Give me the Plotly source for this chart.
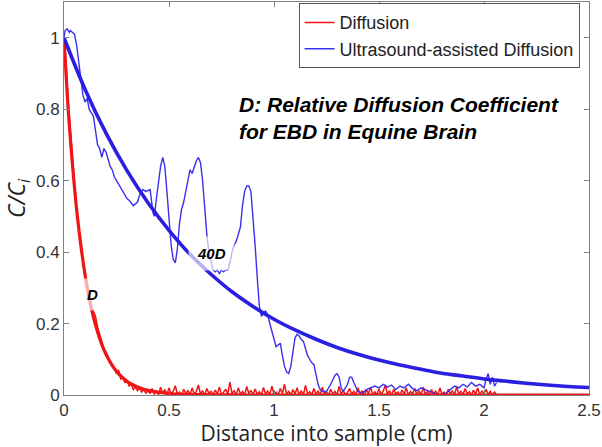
import plotly.graph_objects as go

# ---------------- data ----------------
# red (Diffusion) measured profile, sampled every 0.01 cm starting at 0
red_y = [1.0, 0.93, 0.82, 0.74, 0.66, 0.58, 0.52, 0.47, 0.42, 0.38,
         0.345, 0.31, 0.285, 0.25, 0.235, 0.22, 0.19, 0.17, 0.155, 0.13,
         0.12, 0.105, 0.095, 0.08, 0.075, 0.06, 0.07, 0.045, 0.05, 0.035,
         0.04, 0.025, 0.03, 0.015, 0.022, 0.012, 0.02, 0.008, 0.015, 0.005,
         0.012,
         0.004, 0.018, 0.002, 0.012, 0.0, 0.022, 0.005, 0.015, 0.001, 0.02,
         0.003, 0.01, 0.026, 0.002, 0.008, 0.0, 0.016, 0.004, 0.012, 0.001,
         0.02, 0.003, 0.009, 0.028, 0.002, 0.012, 0.0, 0.018, 0.005, 0.01,
         0.0, 0.014, 0.003, 0.022, 0.001, 0.008, 0.016, 0.002, 0.036, 0.004,
         0.012, 0.0, 0.02, 0.003, 0.01, 0.0, 0.024, 0.004, 0.013, 0.001,
         0.017, 0.002, 0.009, 0.0, 0.021, 0.003, 0.011, 0.001, 0.025, 0.002,
         0.008, 0.0, 0.018, 0.004, 0.03, 0.002, 0.01, 0.0, 0.015, 0.003,
         0.02, 0.001, 0.012, 0.0, 0.027, 0.004, 0.009, 0.001, 0.018, 0.002,
         0.011, 0.0, 0.022, 0.003, 0.008, 0.0, 0.016, 0.002, 0.01, 0.0,
         0.024, 0.003, 0.012, 0.001, 0.007, 0.018, 0.002, 0.01, 0.0, 0.02,
         0.002, 0.012, 0.0, 0.015, 0.003, 0.022, 0.001, 0.009, 0.0, 0.017,
         0.003, 0.01, 0.028, 0.002, 0.012, 0.0, 0.016, 0.004, 0.008, 0.0,
         0.014, 0.002, 0.02, 0.0, 0.01, 0.003, 0.018, 0.001, 0.012, 0.0,
         0.022, 0.002, 0.009, 0.0, 0.015, 0.003, 0.011, 0.0, 0.02, 0.002,
         0.008, 0.0, 0.016, 0.003, 0.012, 0.0, 0.024, 0.002, 0.01, 0.001,
         0.018, 0.003, 0.009, 0.0, 0.014, 0.002, 0.02, 0.0, 0.012, 0.003,
         0.016, 0.002, 0.01, 0.0, 0.008, 0.0]
red_x0 = 0.0
red_dx = 0.01

blue_x = [0.0, 0.005, 0.015, 0.025, 0.03, 0.04, 0.05, 0.06, 0.07, 0.08, 0.09, 0.10, 0.11, 0.12,
          0.13, 0.14, 0.15, 0.16, 0.17, 0.18, 0.19, 0.20, 0.21, 0.22, 0.23, 0.24, 0.26, 0.28, 0.30,
          0.31, 0.33, 0.34, 0.35, 0.36, 0.376, 0.39, 0.41, 0.424, 0.43, 0.44, 0.45, 0.46, 0.47, 0.48,
          0.49, 0.50, 0.51, 0.52, 0.53, 0.54, 0.55, 0.56, 0.57, 0.58, 0.59, 0.60, 0.61, 0.62, 0.63,
          0.64, 0.65, 0.66, 0.67, 0.68, 0.69, 0.70, 0.71, 0.72, 0.73, 0.74, 0.75, 0.76, 0.77, 0.78,
          0.79, 0.80, 0.81, 0.82, 0.83, 0.84, 0.85, 0.86, 0.87, 0.88, 0.89, 0.90, 0.91, 0.92, 0.93,
          0.94, 0.95, 0.96, 0.97, 0.98, 0.99, 1.00, 1.01, 1.02, 1.03, 1.04, 1.05, 1.06, 1.07, 1.08,
          1.09, 1.10, 1.11, 1.12, 1.13, 1.14, 1.15, 1.16, 1.17, 1.18, 1.19, 1.20, 1.21, 1.22, 1.23,
          1.25, 1.27, 1.29, 1.30, 1.31, 1.32, 1.33, 1.35, 1.36, 1.37, 1.38, 1.40, 1.42, 1.44, 1.46,
          1.48, 1.50, 1.52, 1.54, 1.56, 1.58, 1.60, 1.62, 1.64, 1.66, 1.68, 1.70, 1.72, 1.74, 1.76,
          1.78, 1.80, 1.82, 1.84, 1.86, 1.88, 1.90, 1.92, 1.94, 1.96, 1.98, 2.00, 2.01, 2.02, 2.03,
          2.04, 2.05, 2.06]
blue_y = [1.0, 1.02, 1.025, 1.015, 1.02, 1.015, 1.01, 0.98, 0.93, 0.88, 0.84, 0.82, 0.83, 0.80,
          0.79, 0.78, 0.74, 0.70, 0.69, 0.665, 0.69, 0.68, 0.66, 0.64, 0.63, 0.61, 0.59, 0.57, 0.55,
          0.545, 0.53, 0.535, 0.54, 0.56, 0.575, 0.57, 0.575, 0.51, 0.50, 0.55, 0.60, 0.64, 0.665, 0.64,
          0.57, 0.48, 0.42, 0.38, 0.37, 0.41, 0.48, 0.52, 0.54, 0.57, 0.60, 0.63, 0.62, 0.64, 0.655,
          0.665, 0.65, 0.60, 0.52, 0.45, 0.40, 0.37, 0.35, 0.345, 0.35, 0.34, 0.35, 0.345, 0.35, 0.35,
          0.37, 0.40, 0.42, 0.43, 0.45, 0.47, 0.53, 0.57, 0.585, 0.585, 0.57, 0.50, 0.42, 0.33, 0.25,
          0.22, 0.23, 0.235, 0.225, 0.20, 0.18, 0.16, 0.135, 0.14, 0.145, 0.11, 0.08, 0.065, 0.06, 0.08,
          0.12, 0.16, 0.17, 0.165, 0.155, 0.15, 0.13, 0.11, 0.10, 0.09, 0.085, 0.06, 0.03, 0.015, 0.01,
          0.01, 0.03, 0.055, 0.06, 0.05, 0.02, 0.01, 0.03, 0.05, 0.05, 0.035, 0.01, 0.005, 0.015, 0.02,
          0.025, 0.02, 0.03, 0.022, 0.028, 0.015, 0.025, 0.02, 0.03, 0.018, 0.012, 0.02, 0.015, 0.008, 0.005,
          0.0, 0.002, 0.005, 0.015, 0.025, 0.02, 0.03, 0.022, 0.035, 0.025, 0.03, 0.02, 0.045, 0.06, 0.03,
          0.05, 0.025, 0.035]

fit_red_x = [0, 0.02, 0.04, 0.06, 0.08, 0.10, 0.12, 0.14, 0.16, 0.18, 0.20, 0.22, 0.24, 0.26, 0.28,
             0.30, 0.32, 0.34, 0.36, 0.38, 0.40, 0.50, 0.60, 0.80, 1.0, 1.5, 2.0, 2.5]
fit_red_y = [1.0, 0.80, 0.647, 0.52, 0.42, 0.337, 0.27, 0.218, 0.176, 0.141, 0.114, 0.092, 0.074, 0.059,
             0.048, 0.038, 0.031, 0.025, 0.020, 0.016, 0.013, 0.004, 0.0015, 0.0002, 0, 0, 0, 0]

fit_blue_x = [0, 0.1, 0.2, 0.3, 0.4, 0.5, 0.6, 0.7, 0.8, 0.9, 1.0, 1.1, 1.2, 1.3, 1.4, 1.5, 1.6,
              1.7, 1.8, 1.9, 2.0, 2.1, 2.2, 2.3, 2.4, 2.5]
fit_blue_y = [1.0, 0.856, 0.733, 0.628, 0.538, 0.461, 0.394, 0.338, 0.289, 0.248, 0.212, 0.182, 0.156,
              0.133, 0.114, 0.098, 0.084, 0.072, 0.061, 0.053, 0.045, 0.039, 0.033, 0.028, 0.024, 0.021]

x_ticks = [0, 0.5, 1, 1.5, 2, 2.5]
x_tick_text = ["0", "0.5", "1", "1.5", "2", "2.5"]
y_ticks = [0, 0.2, 0.4, 0.6, 0.8, 1]
y_tick_text = ["0", "0.2", "0.4", "0.6", "0.8", "1"]

RED = "#f01414"
BLUE = "#3a30ee"
BLUE_FIT = "#2a1fe0"

fig = go.Figure()
fig.add_trace(go.Scatter(x0=red_x0, dx=red_dx, y=red_y, mode="lines", name="Diffusion",
                         line=dict(color=RED, width=1.5)))
fig.add_trace(go.Scatter(x=blue_x, y=blue_y, mode="lines", name="Ultrasound-assisted Diffusion",
                         line=dict(color=BLUE, width=1.4)))
fig.add_trace(go.Scatter(x=fit_red_x, y=fit_red_y, mode="lines", showlegend=False,
                         line=dict(color=RED, width=3.2, shape="spline")))
fig.add_trace(go.Scatter(x=fit_blue_x, y=fit_blue_y, mode="lines", showlegend=False,
                         line=dict(color=BLUE_FIT, width=3.6, shape="spline")))

ann_font = dict(family="Liberation Sans, Arial", size=21, color="black")
fig.add_annotation(x=0.825, y=0.812, xref="x", yref="y", text="<b><i>D: Relative Diffusion Coefficient</i></b>",
                   showarrow=False, xanchor="left", yanchor="middle", font=ann_font)
fig.add_annotation(x=0.825, y=0.737, xref="x", yref="y", text="<b><i>for EBD in Equine Brain</i></b>",
                   showarrow=False, xanchor="left", yanchor="middle", font=ann_font)
lab_font = dict(family="Liberation Sans, Arial", size=15, color="black")
fig.add_annotation(x=0.135, y=0.28, text="<b><i>D</i></b>", showarrow=False, font=lab_font,
                   bgcolor="rgba(255,255,255,0.65)", borderpad=7)
fig.add_annotation(x=0.70, y=0.395, text="<b><i>40D</i></b>", showarrow=False, font=lab_font,
                   bgcolor="rgba(255,255,255,0.65)", borderpad=8)

axis_common = dict(showline=True, linecolor="#808080", linewidth=1, mirror="allticks",
                   ticks="inside", ticklen=5, tickcolor="#808080", showgrid=False, zeroline=False,
                   automargin=False,
                   tickfont=dict(family="Liberation Sans, Arial", size=17, color="#333333"))

fig.update_layout(
    width=602, height=447,
    margin=dict(l=64, r=13, t=2, b=52),
    paper_bgcolor="white", plot_bgcolor="white",
    xaxis=dict(range=[0, 2.5], tickvals=x_ticks, ticktext=x_tick_text,
               title=dict(text="Distance into sample (cm)", standoff=6,
                          font=dict(family="Open Sans", size=21, color="#222222")),
               **axis_common),
    yaxis=dict(range=[0, 1.1], tickvals=y_ticks, ticktext=y_tick_text,
               title=dict(text="<i>C/C<sub>i</sub></i>", standoff=10,
                          font=dict(family="Open Sans", size=23, color="#222222")),
               **axis_common),
    legend=dict(x=0.982, y=0.997, xanchor="right", yanchor="top", bgcolor="white",
                bordercolor="#555555", borderwidth=1,
                font=dict(family="Liberation Sans, Arial", size=18, color="#222222"),
                tracegroupgap=0, itemwidth=30),
    showlegend=True,
)

fig.write_html("out.html", config={"displayModeBar": False},
               post_script="document.body.style.margin='0';")
